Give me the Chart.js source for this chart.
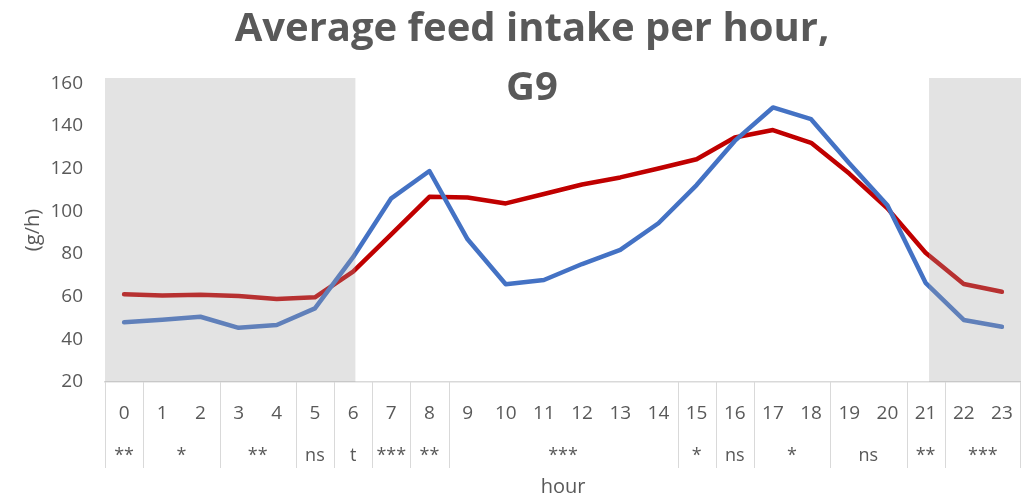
<!DOCTYPE html>
<html>
<head>
<meta charset="utf-8">
<title>Average feed intake per hour, G9</title>
<script src="https://cdn.jsdelivr.net/npm/chart.js@4.4.1/dist/chart.umd.min.js"></script>
<style>
  html, body { margin: 0; padding: 0; background: #fff; }
</style>
</head>
<body>
<canvas id="feedChart" width="1021" height="499"></canvas>
<script>
// hours of the day (x categories)
const hours = ["0", "1", "2", "3", "4", "5", "6", "7", "8", "9", "10", "11",
    "12", "13", "14", "15", "16", "17", "18", "19", "20", "21", "22", "23"];

// average feed intake (g/h)
const intakeBlue = [48, 49.2, 50.6, 45.4, 46.7, 54.5, 78.5, 106.1, 118.9, 86.9, 65.8, 67.8,
    75.3, 81.9, 94.4, 112.3, 133, 148.7, 143.2, 122.5, 102.9, 66.5, 49.1, 45.9];
const intakeRed = [61.1, 60.6, 60.9, 60.3, 58.9, 59.7, 71.7, 89.2, 106.8, 106.5, 103.7, 108.1,
    112.6, 115.9, 120.1, 124.4, 134.6, 138.1, 132.1, 117.7, 101.4, 80.6, 65.9, 62.3];

// significance per group of hours: [first hour, last hour, label]
const sigGroups = [
    [0, 0, "**"], [1, 2, "*"], [3, 4, "**"], [5, 5, "ns"], [6, 6, "t"], [7, 7, "***"],
    [8, 8, "**"], [9, 14, "***"], [15, 15, "*"], [16, 16, "ns"], [17, 18, "*"],
    [19, 20, "ns"], [21, 21, "**"], [22, 23, "***"]
];

// dark periods, in hour units on the category axis
const darkPeriods = [[-0.5, 6.06], [21.09, 23.5]];

const titleLines = ["Average feed intake per hour,", "G9"];
const textColor = "#595959";
const fontFamily = "'Open Sans', 'DejaVu Sans', sans-serif";

const overlayPlugin = {
    id: "overlay",
    afterDatasetsDraw(chart) {
        const { ctx, chartArea, scales: { x } } = chart;
        ctx.save();
        ctx.fillStyle = "rgba(163, 163, 163, 0.3)";
        darkPeriods.forEach(([from, to]) => {
            const x0 = x.getPixelForValue(from);
            const x1 = x.getPixelForValue(to);
            ctx.fillRect(x0, chartArea.top, x1 - x0, chartArea.bottom - chartArea.top);
        });
        ctx.restore();
    },
    afterDraw(chart) {
        const { ctx, chartArea, scales: { x } } = chart;
        const bottom = chartArea.bottom;
        ctx.save();

        // group separators under the axis
        ctx.strokeStyle = "#d9d9d9";
        ctx.lineWidth = 1;
        const edges = sigGroups.map((g) => g[0] - 0.5);
        edges.push(sigGroups[sigGroups.length - 1][1] + 0.5);
        edges.forEach((v) => {
            const px = Math.min(Math.round(x.getPixelForValue(v)) + 0.5, chart.width - 0.5);
            ctx.beginPath();
            ctx.moveTo(px, bottom);
            ctx.lineTo(px, bottom + 86);
            ctx.stroke();
        });

        // significance labels
        ctx.fillStyle = textColor;
        ctx.font = "18px " + fontFamily;
        ctx.textAlign = "center";
        ctx.textBaseline = "alphabetic";
        sigGroups.forEach(([first, last, label]) => {
            const cx = x.getPixelForValue((first + last) / 2);
            ctx.fillText(label, cx, bottom + 79);
        });

        // title
        ctx.font = "bold 40px " + fontFamily;
        ctx.fillText(titleLines[0], 532, 41);
        ctx.fillText(titleLines[1], 532, 100);
        ctx.restore();
    }
};

const ctx = document.getElementById("feedChart").getContext("2d");
new Chart(ctx, {
    type: "line",
    data: {
        labels: hours,
        datasets: [
            {
                data: intakeBlue,
                borderColor: "#4472c4",
                borderWidth: 4.5,
                pointRadius: 0,
                tension: 0,
                borderJoinStyle: "round",
                borderCapStyle: "round",
                order: 0,
            },
            {
                data: intakeRed,
                borderColor: "#c00000",
                borderWidth: 4.5,
                pointRadius: 0,
                tension: 0,
                borderJoinStyle: "round",
                borderCapStyle: "round",
                order: 1,
            },
        ],
    },
    options: {
        responsive: false,
        animation: false,
        layout: { padding: { top: 78, left: 0, right: 0, bottom: 0 } },
        plugins: {
            legend: { display: false },
            title: { display: false },
            tooltip: { enabled: false },
        },
        scales: {
            x: {
                offset: true,
                grid: { display: false, drawTicks: false },
                border: { display: true, color: "#d9d9d9", width: 1.5 },
                ticks: {
                    autoSkip: false,
                    maxRotation: 0,
                    padding: 20.5,
                    color: textColor,
                    font: { family: fontFamily, size: 19 },
                },
                title: {
                    display: true,
                    text: "hour",
                    color: textColor,
                    font: { family: fontFamily, size: 20 },
                    padding: { top: 0, bottom: 0 },
                },
                afterFit: (scale) => {
                    scale.height = 117;
                    scale.paddingLeft = 0;
                    scale.paddingRight = 0;
                },
            },
            y: {
                min: 20,
                max: 162.5,
                grid: { display: false, drawTicks: false },
                border: { display: false },
                ticks: {
                    stepSize: 20,
                    includeBounds: false,
                    padding: 22,
                    color: textColor,
                    font: { family: fontFamily, size: 19 },
                },
                afterBuildTicks: (scale) => {
                    scale.ticks = scale.ticks.filter((t) => t.value % 20 === 0);
                },
                title: {
                    display: true,
                    text: "(g/h)",
                    color: textColor,
                    font: { family: fontFamily, size: 20 },
                    padding: { top: 21, bottom: 0 },
                },
                afterFit: (scale) => { scale.width = 105; },
            },
        },
    },
    plugins: [overlayPlugin],
});
</script>
</body>
</html>
